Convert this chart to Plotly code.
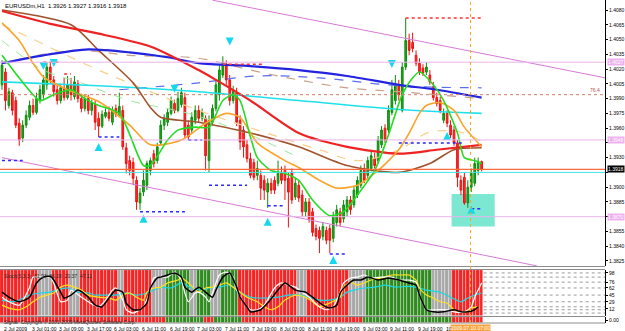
import plotly.graph_objects as go

# ---------------- DATA ----------------
bars = list(range(140))
opens = [1.4004,1.4017,1.3983,1.3996,1.3988,1.3965,1.3950,1.3963,1.3971,1.3983,
         1.3976,1.3988,1.3994,1.4004,1.4022,1.4009,1.3999,1.3988,1.4001,1.3991,
         1.4004,1.3992,1.4005,1.3990,1.3980,1.3990,1.3978,1.3984,1.3970,1.3962,
         1.3972,1.3976,1.3966,1.3980,1.3974,1.3978,1.3940,1.3927,1.3925,1.3907,
         1.3884,1.3895,1.3902,1.3917,1.3934,1.3927,1.3945,1.3963,1.3966,1.3975,
         1.3985,1.3978,1.3984,1.3991,1.3963,1.3958,1.3968,1.3978,1.3970,1.3970,
         1.3927,1.3966,1.3980,1.3994,1.4014,1.4024,1.4009,1.3988,1.3996,1.3968,
         1.3958,1.3943,1.3929,1.3925,1.3912,1.3912,1.3907,1.3895,1.3904,1.3907,
         1.3904,1.3915,1.3917,1.3909,1.3915,1.3890,1.3902,1.3892,1.3875,1.3885,
         1.3875,1.3858,1.3856,1.3850,1.3856,1.3858,1.3848,1.3864,1.3875,1.3868,
         1.3875,1.3887,1.3882,1.3892,1.3902,1.3919,1.3912,1.3919,1.3929,1.3927,
         1.3943,1.3960,1.3958,1.3976,1.3988,1.4004,1.3978,1.4022,1.4049,1.4047,
         1.4034,1.4026,1.4021,1.4017,1.4014,1.4002,1.3991,1.3988,1.3968,1.3975,
         1.3963,1.3958,1.3945,1.3907,1.3910,1.3884,1.3900,1.3904,1.3917,1.3926]
highs = [1.4029,1.4021,1.4001,1.3999,1.3992,1.3970,1.3968,1.3978,1.3988,1.3990,
         1.3996,1.4004,1.4014,1.4027,1.4027,1.4013,1.4004,1.4005,1.4011,1.4013,
         1.4011,1.4013,1.4009,1.3995,1.3994,1.3994,1.3989,1.3988,1.3976,1.3978,
         1.3980,1.3982,1.3982,1.3984,1.3996,1.3983,1.3945,1.3932,1.3930,1.3911,
         1.3899,1.3917,1.3927,1.3930,1.3938,1.3945,1.3968,1.3974,1.3980,1.3992,
         1.3989,1.3997,1.4001,1.3996,1.3968,1.3976,1.3983,1.3983,1.3980,1.3973,
         1.3973,1.3984,1.4009,1.4024,1.4033,1.4029,1.4014,1.4003,1.4001,1.3973,
         1.3962,1.3948,1.3935,1.3929,1.3927,1.3917,1.3912,1.3909,1.3909,1.3911,
         1.3927,1.3921,1.3922,1.3915,1.3919,1.3909,1.3907,1.3897,1.3889,1.3889,
         1.3879,1.3862,1.3860,1.3864,1.3860,1.3862,1.3875,1.3882,1.3879,1.3887,
         1.3891,1.3891,1.3901,1.3911,1.3922,1.3924,1.3931,1.3938,1.3935,1.3952,
         1.3962,1.3964,1.3983,1.4009,1.4014,1.4009,1.4027,1.4072,1.4056,1.4057,
         1.4039,1.4031,1.4025,1.4027,1.4019,1.4007,1.3996,1.3992,1.3980,1.3978,
         1.3968,1.3962,1.3948,1.3912,1.3915,1.3907,1.3919,1.3930,1.3930,1.3927]
lows = [1.3999,1.3978,1.3980,1.3973,1.3960,1.3942,1.3946,1.3960,1.3968,1.3973,
        1.3974,1.3985,1.3990,1.3999,1.4005,1.3992,1.3984,1.3985,1.3988,1.3989,
        1.3988,1.3989,1.3986,1.3976,1.3977,1.3974,1.3973,1.3958,1.3951,1.3960,
        1.3970,1.3967,1.3963,1.3971,1.3972,1.3938,1.3914,1.3912,1.3902,1.3877,
        1.3877,1.3891,1.3897,1.3912,1.3920,1.3924,1.3942,1.3958,1.3962,1.3973,
        1.3975,1.3976,1.3981,1.3950,1.3948,1.3955,1.3964,1.3966,1.3967,1.3917,
        1.3915,1.3963,1.3977,1.3988,1.4011,1.4004,1.3983,1.3985,1.3962,1.3938,
        1.3930,1.3925,1.3909,1.3907,1.3907,1.3887,1.3887,1.3879,1.3893,1.3893,
        1.3901,1.3903,1.3887,1.3859,1.3883,1.3887,1.3885,1.3870,1.3870,1.3864,
        1.3850,1.3846,1.3833,1.3846,1.3842,1.3833,1.3844,1.3860,1.3860,1.3864,
        1.3870,1.3872,1.3879,1.3889,1.3899,1.3904,1.3909,1.3916,1.3919,1.3924,
        1.3940,1.3945,1.3955,1.3973,1.3984,1.3988,1.3976,1.4019,1.4034,1.4037,
        1.4023,1.4014,1.4013,1.4014,1.4004,1.3988,1.3982,1.3975,1.3965,1.3961,
        1.3950,1.3942,1.3900,1.3892,1.3882,1.3879,1.3895,1.3901,1.3912,1.3916]
closes = [1.4024,1.3988,1.3997,1.3978,1.3963,1.3948,1.3963,1.3973,1.3983,1.3976,
          1.3990,1.3999,1.4009,1.4022,1.4009,1.3997,1.3988,1.4001,1.3991,1.4004,
          1.3994,1.4007,1.3990,1.3980,1.3990,1.3978,1.3986,1.3966,1.3962,1.3974,
          1.3976,1.3970,1.3978,1.3974,1.3982,1.3941,1.3924,1.3917,1.3909,1.3885,
          1.3894,1.3907,1.3924,1.3927,1.3924,1.3941,1.3963,1.3970,1.3976,1.3988,
          1.3978,1.3990,1.3996,1.3953,1.3951,1.3971,1.3978,1.3970,1.3976,1.3932,
          1.3968,1.3980,1.4004,1.4019,1.4027,1.4009,1.3988,1.3999,1.3966,1.3946,
          1.3941,1.3929,1.3912,1.3910,1.3919,1.3899,1.3897,1.3904,1.3897,1.3897,
          1.3914,1.3907,1.3907,1.3895,1.3887,1.3904,1.3889,1.3875,1.3885,1.3868,
          1.3854,1.3850,1.3848,1.3860,1.3846,1.3846,1.3871,1.3877,1.3864,1.3882,
          1.3887,1.3877,1.3897,1.3907,1.3917,1.3907,1.3927,1.3932,1.3922,1.3948,
          1.3958,1.3948,1.3978,1.3999,1.4004,1.3994,1.4022,1.4049,1.4039,1.4041,
          1.4026,1.4017,1.4016,1.4022,1.4007,1.3991,1.3985,1.3978,1.3975,1.3965,
          1.3953,1.3945,1.3910,1.3897,1.3884,1.3900,1.3914,1.3924,1.3926,1.3918]

price_ticks = [1.4080,1.4065,1.4050,1.4035,1.4020,1.4005,1.3990,1.3975,1.3960,
               1.3945,1.3930,1.3915,1.3900,1.3885,1.3870,1.3855,1.3840,1.3825]
hidden_ticks = [1.3945,1.3915,1.3870]   # covered by the price-level labels in the original

time_label_bars = [0,8,16,24,32,40,48,56,64,72,80,88,96,104,112,120,128]
time_labels = ["2 Jul 2009","3 Jul 01:00","3 Jul 09:00","3 Jul 17:00","6 Jul 03:00",
               "6 Jul 11:00","6 Jul 19:00","7 Jul 03:00","7 Jul 11:00","7 Jul 19:00",
               "8 Jul 03:00","8 Jul 11:00","8 Jul 19:00","9 Jul 03:00","9 Jul 11:00",
               "9 Jul 19:00","10 Jul 03:00"]

blue_bars = [0,12,25,37,48,57,72,86,100,115,126,139]
blue_vals = [1.4026,1.4034,1.4040,1.4037,1.4032,1.4026,1.4023,1.4019,1.4013,1.4004,1.3999,1.3991]
red_bars = [0,14,28,43,57,62,72,86,100,115,126,139]
red_vals = [1.4079,1.4066,1.4056,1.4043,1.4019,1.4009,1.3988,1.3955,1.3941,1.3934,1.3938,1.3943]
brown_bars = [0,20,28,38,43,46,57,72,86,100,115,124,131,139]
brown_vals = [1.4080,1.4065,1.4039,1.4006,1.3981,1.3971,1.3966,1.3955,1.3941,1.3922,1.3915,1.3924,1.3938,1.3940]
cyan_bars = [0,28,57,86,115,139]
cyan_vals = [1.4007,1.4003,1.3997,1.3988,1.3979,1.3975]
orange_bars = [0,5,9,12,19,28,37,43,52,59,65,69,74,82,86,92,97,103,109,115,118,121,123,127,131,134,139]
orange_vals = [1.4067,1.4049,1.4026,1.4012,1.3999,1.3987,1.3963,1.3943,1.3948,1.3965,1.3975,1.3971,
               1.3945,1.3927,1.3920,1.3907,1.3899,1.3902,1.3917,1.3938,1.3955,1.3975,1.3983,1.3986,
               1.3978,1.3961,1.3941]
green_bars = [0,5,11,15,20,24,28,34,41,43,48,51,56,60,64,67,69,72,74,78,82,86,90,95,99,103,108,
              112,116,119,121,125,128,132,134,137,139]
green_vals = [1.4034,1.4011,1.3988,1.3994,1.3999,1.3990,1.3983,1.3975,1.3922,1.3922,1.3948,1.3958,
              1.3961,1.3961,1.3988,1.3994,1.3988,1.3951,1.3930,1.3917,1.3914,1.3907,1.3887,1.3871,
              1.3875,1.3892,1.3917,1.3953,1.3994,1.4011,1.4017,1.4004,1.3988,1.3955,1.3930,1.3927,1.3924]
lorange_bars = [0,8,28,57,74,92,103,115,124,134,139]
lorange_vals = [1.4065,1.4052,1.4019,1.3978,1.3958,1.3938,1.3927,1.3938,1.3956,1.3955,1.3946]
tan_bars = [0,21,37,57,72,86,100,115,126,139]
tan_vals = [1.4026,1.4039,1.4034,1.4031,1.4019,1.4009,1.4001,1.3997,1.3994,1.3990]
bdash_bars = [34,57,74,92,115,139]
bdash_vals = [1.3999,1.4006,1.4013,1.4011,1.4003,1.4001]
lgreen_bars = [0,12,23,37,54,72,86]
lgreen_vals = [1.4049,1.4019,1.4006,1.3988,1.3975,1.3953,1.3930]

# channel lines (two end points each)
upper_ch_bars = [61,175]
upper_ch_vals = [1.4090,1.4011]
lower_ch_bars = [0,155]
lower_ch_vals = [1.3930,1.3820]

pink_levels = [1.4027,1.3948,1.3870]
bid_price = 1.3918
ask_line = 1.3915
fib_level = 1.3994

res_start = [12,18,64,117]
res_end = [17,20,76,139]
res_price = [1.4027,1.4015,1.4025,1.4072]
sup_start = [0,28,40,54,60,77,95,115,136]
sup_end = [6,34,53,58,71,82,100,134,139]
sup_price = [1.3927,1.3951,1.3875,1.3948,1.3902,1.3881,1.3832,1.3945,1.3878]

down_arrow_bars = [12,15,50,66,113]
down_arrow_vals = [1.4019,1.4022,1.3996,1.4044,1.4021]
up_arrow_bars = [28,41,77,96,129,136]
up_arrow_vals = [1.3945,1.3872,1.3869,1.3830,1.3956,1.3881]

box_bars = [130.3,142.8]
box_vals = [1.3860,1.3893]
cursor_bar = 135.8

# oscillator window
osc_runs = [('r',11),('n',4),('r',5),('n',3),('r',11),('n',2),('r',8),('n',4),('g',7),('n',2),
            ('g',4),('n',3),('g',5),('r',17),('n',3),('r',12),('n',5),('g',19),('n',6),('r',9)]
strip_runs = [('r',48),('g',11),('r',3),('g',8),('r',35),('g',26),('r',9)]
black_bars = [0,2,5,8,10,12,14,15,17,18,20,22,25,27,29,31,33,35,36,38,40,42,43,45,46,48,50,52,53,55,
              57,59,61,62,64,66,68,69,71,72,75,77,80,82,85,88,90,93,95,97,98,100,102,104,106,109,112,
              115,118,120,121,123,125,128,131,133,135,137,138]
black_vals = [52,40,29,40,74,88,90,81,52,38,45,57,40,21,17,38,57,52,26,10,10,26,62,86,88,93,98,88,64,52,
              64,52,40,57,88,98,64,40,17,5,10,26,57,74,57,52,40,21,14,21,50,69,81,81,88,81,86,
              81,74,69,45,10,5,5,10,5,5,10,17]
white_bars = [0,2,5,8,9,10,14,15,17,19,20,23,25,28,30,32,33,35,36,38,41,43,44,46,48,50,52,53,54,56,
              57,59,60,61,63,65,67,68,70,72,74,76,79,81,83,85,87,89,92,94,96,98,99,101,103,105,107,
              110,113,115,118,120,121,123,126,129,131,134,136,137,139]
white_vals = [40,29,21,64,88,88,88,74,29,33,57,40,29,17,33,57,62,33,10,2,17,57,86,88,88,100,81,50,29,50,
              52,40,29,50,93,100,88,57,29,10,10,21,62,74,69,64,52,40,17,10,17,52,74,86,88,93,86,
              88,88,81,81,76,45,10,10,10,5,5,17,40,74]
yellow_bars = [0,2,5,7,9,11,13,15,17,19,21,23,25,28,31,33,35,37,39,41,42,44,46,48,51,52,54,57,59,61,
               63,65,67,69,71,74,76,78,80,82,85,88,90,92,95,98,99,101,103,105,107,110,113,116,118,
               120,121,123,125,127,129,131,133,135,136,138]
yellow_vals = [21,14,10,17,29,40,45,50,64,69,64,57,45,40,38,33,45,50,40,33,52,62,64,74,81,86,74,52,62,64,
               69,74,64,52,40,29,17,10,17,33,45,40,29,17,26,40,64,76,69,74,81,86,93,93,93,
               81,62,45,38,29,26,10,5,5,14,17]
cyano_bars = [0,3,5,8,11,14,16,19,22,25,27,30,33,36,39,42,44,46,49,52,55,58,60,63,66,69,72,74,77,80,
              83,86,89,92,95,98,100,102,105,108,111,114,118,121,123,127,130,133,135,137,139]
cyano_vals = [33,29,33,45,50,52,57,62,52,50,45,45,45,50,45,50,57,64,62,74,62,57,62,64,69,52,40,38,38,40,
              45,45,40,33,33,40,52,57,62,64,69,64,66,62,57,52,40,29,38,45,50]
osc_levels = [98,88,76,62,45,29,17,10,2]
osc_ticks = [98,76,62,45,29,12]

# ---------------- LAYOUT HELPERS ----------------
W, H = 625, 331
MR, MB = 17, 8
PH = H - MB
def py(px):
    return 1 - px / PH

X0, X1 = -0.58, 174.76
FONT = "Liberation Sans"
RED, GREEN, GRAY = "#f42424", "#2f8a1f", "#a8a8a8"
cmap = {'r': RED, 'g': GREEN, 'n': GRAY}

def expand(runs):
    out = []
    for c, n in runs:
        out += [cmap[c]] * n
    return out

fig = go.Figure()

# oscillator stripes
fig.add_trace(go.Bar(x=bars, y=[110] * len(bars), base=-5, width=1.0,
                     marker=dict(color=expand(osc_runs), line=dict(width=0.6, color="rgba(255,255,255,0.55)")),
                     xaxis="x2", yaxis="y2", hoverinfo="skip"))
for bx, vals, col, w in [(cyano_bars, cyano_vals, "#19d9e6", 1.2), (yellow_bars, yellow_vals, "#ffe21a", 1.2),
                         (white_bars, white_vals, "#ffffff", 1.2), (black_bars, black_vals, "#000000", 1.5)]:
    fig.add_trace(go.Scatter(x=bx, y=vals, mode="lines", line=dict(color=col, width=w, shape="spline", smoothing=0.6),
                             xaxis="x2", yaxis="y2", hoverinfo="skip"))
# bottom strip
fig.add_trace(go.Bar(x=bars, y=[1] * len(bars), width=1.0,
                     marker=dict(color=expand(strip_runs), line=dict(width=0.6, color="rgba(255,255,255,0.6)")),
                     xaxis="x3", yaxis="y3", hoverinfo="skip"))

# faint MAs
for bx, vals, col, dash, w in [(lgreen_bars, lgreen_vals, "#9be89b", "dash", 1),
                               (tan_bars, tan_vals, "#c9a08a", "dash", 1.2),
                               (lorange_bars, lorange_vals, "#f8cf8c", "dash", 1.2),
                               (bdash_bars, bdash_vals, "#5a6cf0", "dash", 1.2)]:
    fig.add_trace(go.Scatter(x=bx, y=vals, mode="lines", line=dict(color=col, width=w, dash=dash, shape="spline"),
                             hoverinfo="skip"))

# candles
fig.add_trace(go.Candlestick(x=bars, open=opens, high=highs, low=lows, close=closes,
                             increasing=dict(line=dict(color="#0c8c0c", width=1), fillcolor="#22a822"),
                             decreasing=dict(line=dict(color="#ee1111", width=1), fillcolor="#ff2a2a"),
                             whiskerwidth=0, hoverinfo="skip"))

# MAs
for bx, vals, col, w in [(cyan_bars, cyan_vals, "#1ee0ea", 1.6), (brown_bars, brown_vals, "#a0522d", 1.6),
                         (blue_bars, blue_vals, "#2323e0", 2.2), (red_bars, red_vals, "#ee2222", 2.2),
                         (orange_bars, orange_vals, "#fba42a", 1.6), (green_bars, green_vals, "#22dd22", 1.6)]:
    fig.add_trace(go.Scatter(x=bx, y=vals, mode="lines", line=dict(color=col, width=w, shape="spline", smoothing=0.7),
                             hoverinfo="skip"))

# channel lines
for bx, vals in [(upper_ch_bars, upper_ch_vals), (lower_ch_bars, lower_ch_vals)]:
    fig.add_trace(go.Scatter(x=bx, y=vals, mode="lines", line=dict(color="#d77ad7", width=1), hoverinfo="skip"))

# support / resistance dotted segments
def seg_xy(s, e, p):
    xs, ys = [], []
    for a, b, v in zip(s, e, p):
        xs += [a, b, None]
        ys += [v, v, None]
    return xs, ys
rx, ry = seg_xy(res_start, res_end, res_price)
sx, sy = seg_xy(sup_start, sup_end, sup_price)
fig.add_trace(go.Scatter(x=rx, y=ry, mode="lines", line=dict(color="#ff3030", width=1.5, dash="dot"), hoverinfo="skip"))
fig.add_trace(go.Scatter(x=sx, y=sy, mode="lines", line=dict(color="#2a2aff", width=1.5, dash="dot"), hoverinfo="skip"))

# arrows
fig.add_trace(go.Scatter(x=down_arrow_bars, y=down_arrow_vals, mode="markers",
                         marker=dict(symbol="arrow-down", size=8, color="#14d8ee", line=dict(width=0)), hoverinfo="skip"))
fig.add_trace(go.Scatter(x=up_arrow_bars, y=up_arrow_vals, mode="markers",
                         marker=dict(symbol="arrow-up", size=8, color="#14d8ee", line=dict(width=0)), hoverinfo="skip"))

shapes = []
shapes.append(dict(type="rect", xref="x", yref="y", x0=box_bars[0], x1=box_bars[1], y0=box_vals[0], y1=box_vals[1],
                   fillcolor="#7ce8d2", line=dict(width=0), layer="below"))
for lv in pink_levels:
    shapes.append(dict(type="line", xref="paper", yref="y", x0=0, x1=1, y0=lv, y1=lv,
                       line=dict(color="#eab4ea", width=1)))
shapes.append(dict(type="line", xref="paper", yref="y", x0=0, x1=1, y0=fib_level, y1=fib_level,
                   line=dict(color="#d0806a", width=1, dash="dot")))
shapes.append(dict(type="line", xref="paper", yref="y", x0=0, x1=1, y0=bid_price, y1=bid_price,
                   line=dict(color="#ff6a3a", width=1.2)))
shapes.append(dict(type="line", xref="paper", yref="y", x0=0, x1=1, y0=ask_line, y1=ask_line,
                   line=dict(color="#3ee6e6", width=1)))
for lv in osc_levels:
    shapes.append(dict(type="line", xref="x2", yref="y2", x0=139.6, x1=X1, y0=lv, y1=lv,
                       line=dict(color="#9a9a9a", width=1, dash="dot")))
for px in [266.5, 269.5, 316.5]:
    shapes.append(dict(type="line", xref="paper", yref="paper", x0=0, x1=1, y0=py(px), y1=py(px),
                       line=dict(color="#8c8c8c", width=1)))
shapes.append(dict(type="line", xref="paper", yref="paper", x0=0, x1=1, y0=0, y1=0,
                   line=dict(color="#8c8c8c", width=1)))
shapes.append(dict(type="line", xref="x", yref="paper", x0=cursor_bar, x1=cursor_bar, y0=0, y1=1,
                   line=dict(color="#f5a623", width=1, dash="dot")))

ann = []
ann.append(dict(text="EURUSDm,H1  1.3926 1.3927 1.3916 1.3918", x=0, y=1, xref="paper", yref="paper",
                xanchor="left", yanchor="top", xshift=3, yshift=-1, showarrow=False,
                font=dict(size=6, color="#000", family=FONT)))
for b, t in zip(time_label_bars, time_labels):
    ann.append(dict(text=t, x=b, y=0, xref="x", yref="paper", xanchor="left", yanchor="top", yshift=-1,
                    showarrow=False, font=dict(size=5, color="#000", family=FONT)))
ann.append(dict(text="2009.07.10 07:00", x=cursor_bar, y=0, xref="x", yref="paper", xanchor="center", yanchor="top",
                yshift=-1, showarrow=False, bgcolor="#f7a23a", borderpad=0,
                font=dict(size=5, color="#ffffff", family=FONT)))
for lv in pink_levels:
    ann.append(dict(text=f"{lv:.4f}", x=1, y=lv, xref="paper", yref="y", xanchor="left", yanchor="middle",
                    xshift=2, showarrow=False, bgcolor="#eeb0ee", borderpad=0,
                    font=dict(size=5, color="#ffffff", family=FONT)))
ann.append(dict(text=f"{bid_price:.4f}", x=1, y=bid_price, xref="paper", yref="y", xanchor="left", yanchor="middle",
                xshift=2, showarrow=False, bgcolor="#000000", borderpad=0,
                font=dict(size=5, color="#ffffff", family=FONT)))
ann.append(dict(text="76.4", x=1, y=fib_level, xref="paper", yref="y", xanchor="right", yanchor="bottom",
                xshift=-3, showarrow=False, font=dict(size=5, color="#c0504d", family=FONT)))
ann.append(dict(text="Stoch(5,3,3)  61.93  36.28  20.37  47.11", x=0, y=py(271), xref="paper", yref="paper",
                xanchor="left", yanchor="top", xshift=2, showarrow=False,
                font=dict(size=5, color="#2a2a2a", family=FONT)))
ann.append(dict(text="Signal  Copyright © 2001-2009 MetaQuotes Software Corp.", x=0, y=py(317), xref="paper",
                yref="paper", xanchor="left", yanchor="top", xshift=2, showarrow=False,
                font=dict(size=5, color="#2a2a2a", family=FONT)))

axis_common = dict(range=[X0, X1], showticklabels=False, showgrid=False, zeroline=False, ticks="", showline=False)
fig.update_layout(
    width=W, height=H, margin=dict(l=0, r=MR, t=0, b=MB),
    paper_bgcolor="#ffffff", plot_bgcolor="#ffffff", showlegend=False,
    font=dict(family=FONT, size=6, color="#000"),
    shapes=shapes, annotations=ann, bargap=0,
    xaxis=dict(domain=[0, 1], anchor="y", rangeslider=dict(visible=False), **axis_common),
    xaxis2=dict(domain=[0, 1], anchor="y2", matches="x", **axis_common),
    xaxis3=dict(domain=[0, 1], anchor="y3", matches="x", **axis_common),
    yaxis=dict(domain=[py(266), 1], range=[1.38199, 1.40902], side="right", anchor="x",
               tickvals=price_ticks,
               ticktext=["" if v in hidden_ticks else f"{v:.4f}" for v in price_ticks],
               ticks="outside", ticklen=2, tickwidth=1, tickcolor="#000",
               tickfont=dict(size=5, color="#000", family=FONT),
               showgrid=False, zeroline=False, showline=True, linecolor="#000", linewidth=1),
    yaxis2=dict(domain=[py(316), py(270)], range=[-5, 105], side="right", anchor="x2",
                tickvals=osc_ticks, ticktext=[str(v) for v in osc_ticks],
                ticks="outside", ticklen=2, tickcolor="#000", tickfont=dict(size=5, color="#000", family=FONT),
                showgrid=False, zeroline=False, showline=True, linecolor="#000", linewidth=1),
    yaxis3=dict(domain=[0, py(317)], range=[0, 1], side="right", anchor="x3",
                tickvals=[0.5], ticktext=["0.00"], ticks="outside", ticklen=2, tickcolor="#000",
                tickfont=dict(size=5, color="#000", family=FONT),
                showgrid=False, zeroline=False, showline=True, linecolor="#000", linewidth=1),
)

fig.write_html("out.html")
